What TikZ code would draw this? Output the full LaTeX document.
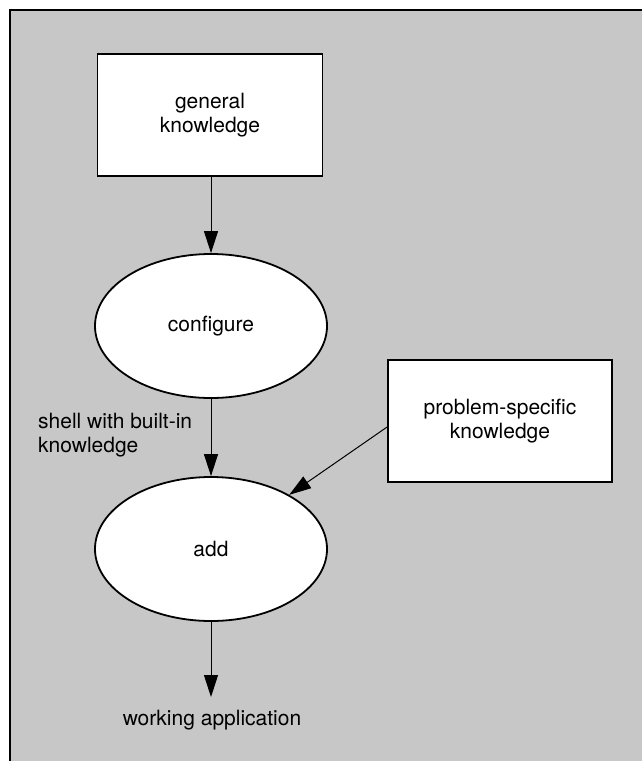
\documentclass[tikz,border=0pt]{standalone}
\usepackage{fontspec}
\setmainfont{TeX Gyre Heros}
\usetikzlibrary{shapes.geometric,arrows.meta}
\definecolor{stipple}{gray}{0.78}
\tikzset{
  boxnode/.style={draw=black, fill=white, line width=1.8pt, rectangle,
    minimum width=225pt, minimum height=122pt, align=center, inner sep=0pt,
    font=\fontsize{21}{24}\selectfont},
  ovalnode/.style={draw=black, fill=white, line width=1.8pt, ellipse,
    minimum width=232pt, minimum height=144pt, inner sep=0pt,
    font=\fontsize{21}{24}\selectfont},
  labelnode/.style={align=left, inner sep=0pt, font=\fontsize{21}{24}\selectfont},
  flow/.style={line width=1pt, -{Triangle[length=22pt,width=14pt]}},
}
\begin{document}
\begin{tikzpicture}[x=1pt,y=-1pt]
\useasboundingbox (0,0) rectangle (642,761);
\fill[stipple] (10,10) rectangle (642,761);
\draw[line width=2pt] (10,761) -- (10,10) -- (642,10);

\node[boxnode] (gk) at (210,115) {general\\knowledge};
\node[ovalnode] (conf) at (211,326) {configure};
\node[boxnode, minimum width=224pt] (ps) at (500,421) {problem-specific\\knowledge};
\node[ovalnode] (add) at (211,549) {add};
\node[labelnode, anchor=west] (shell) at (38,435) {shell with built-in\\knowledge};
\node[labelnode] (work) at (212,720) {working application};
\coordinate (wend) at (211,697);

\draw[flow] (gk.south -| conf.north) -- (conf.north);
\draw[flow] (conf.south) -- (add.north);
\draw[flow] ([yshift=-6pt]ps.west) -- (add);
\draw[flow] (add.south) -- (wend);
\end{tikzpicture}
\end{document}
